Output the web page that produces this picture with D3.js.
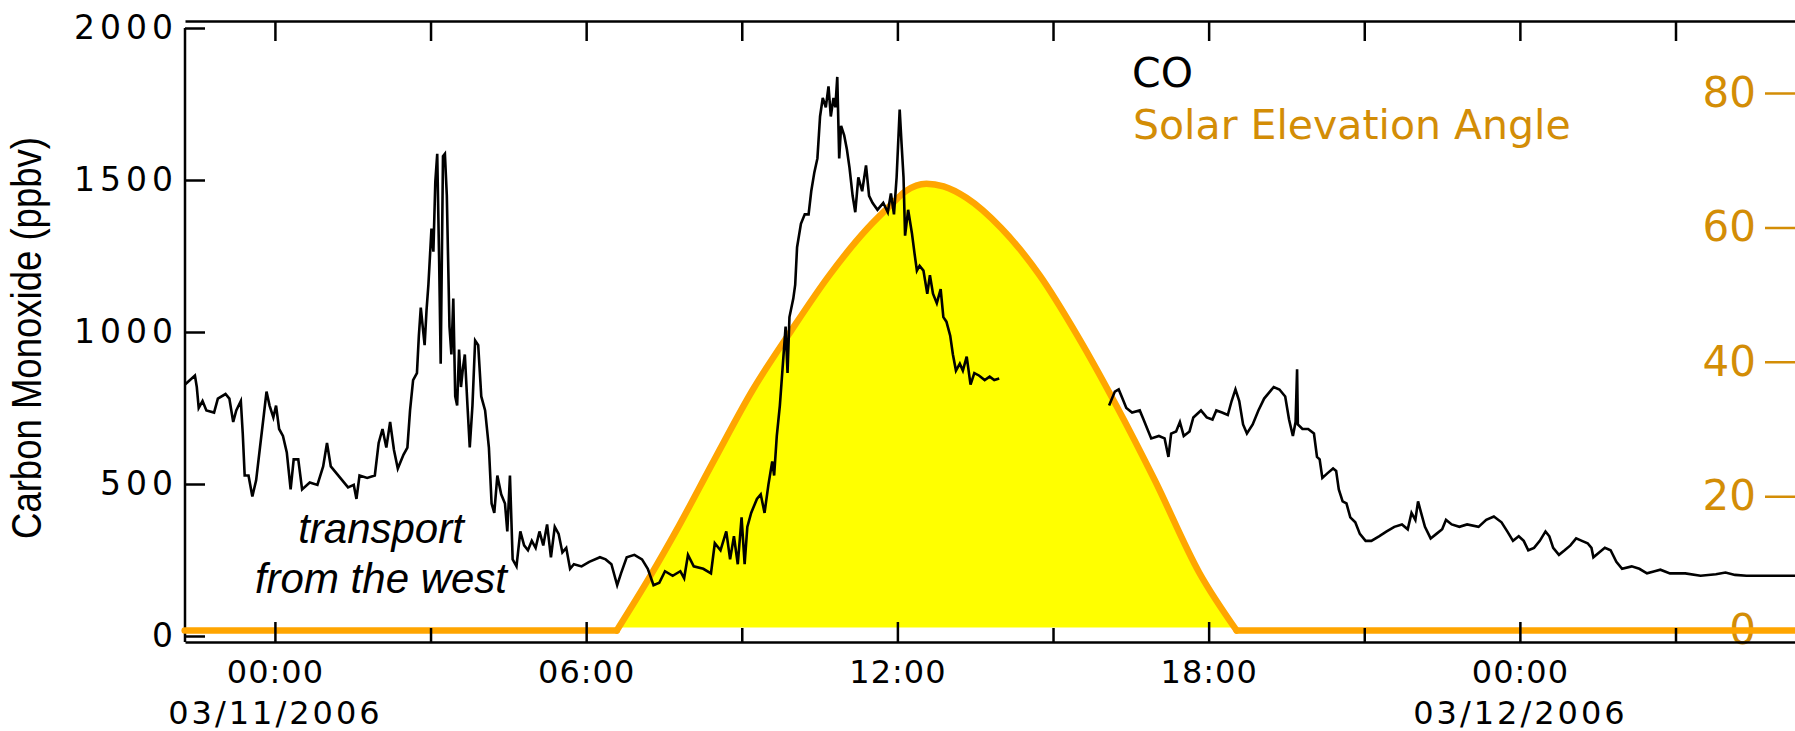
<!DOCTYPE html>
<html>
<head>
<meta charset="utf-8">
<script src="https://cdn.jsdelivr.net/npm/d3@7"></script>
<style>
  html, body { margin: 0; padding: 0; background: #ffffff; }
  svg { display: block; }
</style>
</head>
<body>
<svg id="chart" width="1795" height="731"></svg>
<script>
// Carbon monoxide (ppbv); time in hours after 2006-03-11 00:00 local time
const coHour = [
  -1.734, -1.690, -1.542, -1.506, -1.469, -1.395, -1.321, -1.173, -1.100, -0.952,
  -0.878, -0.804, -0.745, -0.657, -0.620, -0.583, -0.509, -0.435, -0.362, -0.288,
  -0.214, -0.162, -0.103, -0.030, 0.022, 0.081, 0.155, 0.229, 0.303, 0.362,
  0.450, 0.524, 0.672, 0.819, 0.930, 1.004, 1.077, 1.188, 1.299, 1.410,
  1.520, 1.572, 1.631, 1.779, 1.926, 2.000, 2.074, 2.148, 2.221, 2.295,
  2.369, 2.480, 2.554, 2.605, 2.664, 2.738, 2.775, 2.812, 2.886, 2.923,
  2.959, 3.018, 3.055, 3.092, 3.129, 3.166, 3.196, 3.240, 3.277, 3.314,
  3.365, 3.402, 3.439, 3.476, 3.513, 3.550, 3.587, 3.624, 3.661, 3.712,
  3.756, 3.808, 3.860, 3.919, 3.978, 4.052, 4.125, 4.177, 4.229, 4.288,
  4.362, 4.435, 4.480, 4.531, 4.583, 4.657, 4.731, 4.804, 4.878, 4.952,
  5.026, 5.100, 5.173, 5.247, 5.321, 5.395, 5.469, 5.542, 5.616, 5.690,
  5.764, 5.911, 6.059, 6.266, 6.376, 6.487, 6.598, 6.672, 6.782, 6.930,
  7.077, 7.188, 7.299, 7.410, 7.520, 7.668, 7.815, 7.889, 7.963, 8.074,
  8.258, 8.406, 8.480, 8.590, 8.701, 8.775, 8.849, 8.923, 8.996, 9.055,
  9.107, 9.181, 9.292, 9.365, 9.439, 9.513, 9.587, 9.624, 9.675, 9.734,
  9.793, 9.845, 9.882, 9.919, 9.993, 10.030, 10.066, 10.140, 10.214, 10.288,
  10.339, 10.399, 10.458, 10.509, 10.561, 10.620, 10.672, 10.716, 10.768, 10.804,
  10.841, 10.878, 10.915, 10.974, 11.026, 11.077, 11.137, 11.188, 11.247, 11.321,
  11.395, 11.454, 11.520, 11.616, 11.727, 11.815, 11.875, 11.934, 11.985, 12.044,
  12.081, 12.118, 12.148, 12.207, 12.280, 12.332, 12.376, 12.428, 12.502, 12.576,
  12.627, 12.686, 12.760, 12.834, 12.886, 12.945, 13.018, 13.070, 13.129, 13.203,
  13.262, 13.336, 13.410, 13.483, 13.572, 13.683, 13.779, 13.867, 13.963,
  16.081, 16.192, 16.266, 16.339, 16.413, 16.524, 16.672, 16.745, 16.819, 16.893,
  17.041, 17.151, 17.225, 17.277, 17.373, 17.446, 17.520, 17.631, 17.705, 17.852,
  17.963, 18.074, 18.148, 18.258, 18.369, 18.443, 18.517, 18.590, 18.664, 18.738,
  18.849, 18.959, 19.070, 19.181, 19.255, 19.365, 19.476, 19.550, 19.624, 19.676,
  19.705, 19.720, 19.808, 19.919, 20.030, 20.089, 20.140, 20.192, 20.288, 20.399,
  20.458, 20.509, 20.583, 20.657, 20.731, 20.827, 20.915, 21.026, 21.137, 21.284,
  21.432, 21.579, 21.727, 21.838, 21.911, 21.985, 22.037, 22.096, 22.170, 22.280,
  22.391, 22.502, 22.576, 22.686, 22.834, 22.982, 23.203, 23.351, 23.498, 23.646,
  23.757, 23.867, 23.978, 24.074, 24.162, 24.273, 24.384, 24.494, 24.568, 24.642,
  24.753, 24.863, 24.974, 25.085, 25.196, 25.306, 25.380, 25.417, 25.528, 25.638,
  25.749, 25.860, 25.970, 26.155, 26.303, 26.450, 26.598, 26.709, 26.893, 27.188,
  27.483, 27.779, 27.963, 28.148, 28.369, 28.812, 29.314, 29.420
];
const coPpbv = [
  827, 834, 857, 819, 750, 773, 742, 735, 781, 796,
  781, 704, 742, 773, 666, 528, 528, 459, 512, 620,
  727, 804, 758, 719, 758, 681, 658, 604, 482, 581,
  581, 482, 505, 497, 558, 635, 558, 535, 512, 489,
  497, 451, 528, 520, 528, 635, 681, 620, 704, 612,
  551, 597, 620, 742, 842, 865, 988, 1080, 957, 1072,
  1156, 1340, 1264, 1494, 1586, 1233, 896, 1578, 1586, 1448,
  1018, 926, 1110, 788, 758, 942, 819, 880, 926, 758,
  620, 758, 972, 957, 788, 742, 620, 436, 405, 528,
  466, 436, 344, 528, 252, 229, 344, 298, 282, 313,
  290, 344, 298, 367, 259, 359, 336, 275, 290, 221,
  236, 229, 244, 259, 252, 236, 167, 206, 259, 267,
  252, 221, 167, 175, 213, 198, 213, 190, 267, 229,
  221, 206, 305, 282, 344, 252, 328, 236, 390, 236,
  359, 405, 451, 466, 405, 497, 574, 528, 658, 758,
  896, 1018, 865, 1049, 1110, 1156, 1279, 1356, 1387, 1387,
  1463, 1525, 1571, 1709, 1770, 1739, 1808, 1709, 1770, 1739,
  1839, 1571, 1678, 1647, 1601, 1540, 1448, 1394, 1509, 1463,
  1548, 1448, 1425, 1402, 1425, 1394, 1456, 1387, 1509, 1732,
  1617, 1509, 1317, 1402, 1325, 1256, 1202, 1218, 1202, 1126,
  1187, 1126, 1095, 1141, 1049, 1034, 988, 926, 873, 896,
  873, 919, 827, 865, 857, 842, 853, 842, 847,
  758, 804, 811, 781, 750, 735, 742, 712, 681, 650,
  658, 650, 589, 666, 673, 704, 658, 673, 719, 742,
  719, 712, 742, 735, 727, 773, 811, 773, 696, 666,
  696, 742, 781, 804, 819, 811, 788, 712, 658, 704,
  877, 696, 681, 681, 666, 589, 581, 520, 535, 551,
  543, 482, 443, 436, 390, 374, 336, 313, 313, 328,
  344, 359, 367, 351, 405, 382, 443, 405, 359, 321,
  336, 351, 382, 367, 359, 367, 359, 382, 393, 374,
  344, 313, 328, 313, 282, 290, 313, 344, 328, 290,
  267, 282, 298, 321, 313, 305, 290, 259, 275, 290,
  282, 244, 221, 229, 221, 206, 213, 218, 206, 206,
  198, 203, 209, 201, 198, 198, 198, 198
];

// Solar elevation angle (degrees), same time base
const sunHour = [-1.74, 6.59, 7.22, 7.74, 8.47, 9.21, 9.95, 10.69, 11.43, 11.87, 12.16,
                 12.56, 12.89, 13.33, 14.00, 14.74, 15.47, 16.22, 16.96, 17.82, 18.54, 29.42];
const sunDeg  = [0, 0, 7.9, 14.9, 25.4, 35.8, 44.6, 52.9, 59.9, 63.3, 65.4,
                 66.5, 66.1, 64.4, 59.9, 52.9, 43.9, 33.5, 22.4, 8.6, 0, 0];

const coTicks = [0, 500, 1000, 1500, 2000];
const sunTicks = [0, 20, 40, 60, 80];
const legendLabels = ["CO", "Solar Elevation Angle"];
const noteLines = ["transport", "from the west"];
const yTitle = "Carbon Monoxide (ppbv)";

const SUN_LINE = "#ffa500";
const SUN_FILL = "#ffff00";
const SUN_TEXT = "#d38d06";
const AXIS_FONT = "'DejaVu Sans', sans-serif";

const base = new Date(2006, 2, 11, 0, 0, 0);
const toDate = h => new Date(base.getTime() + h * 3600e3);

const frame = { left: 185, right: 1800, top: 21, bottom: 642 };

const x = d3.scaleTime()
  .domain([new Date(2006, 2, 10, 22, 16), new Date(2006, 2, 12, 5, 24)])
  .range([frame.left, frame.right]);
const yCO = d3.scaleLinear().domain([0, 2000]).range([636, 28]);
const ySun = d3.scaleLinear().domain([0, 80]).range([630.5, 93]);

const svg = d3.select("#chart");

const co = coHour.map((h, i) => ({ t: toDate(h), h, v: coPpbv[i] }));
const sun = sunHour.map((h, i) => ({ t: toDate(h), a: sunDeg[i] }));

// daylight arc: from last zero before sunrise to first zero after sunset
const iRise = sun.findIndex(d => d.a > 0) - 1;
const iSet = sun.length - [...sun].reverse().findIndex(d => d.a > 0);
const dayArc = sun.slice(iRise, iSet + 1);

// ---- yellow daylight fill (stops at the upper edge of the zero line)
svg.append("path")
  .datum(dayArc)
  .attr("fill", SUN_FILL)
  .attr("d", d3.area()
    .curve(d3.curveMonotoneX)
    .x(d => x(d.t))
    .y0(ySun(0) - 3)
    .y1(d => ySun(d.a)));

// ---- axes
const hourTicks = x.ticks(d3.timeHour.every(3));
const fmtHM = d3.timeFormat("%H:%M");
const fmtDate = d3.timeFormat("%m/%d/%Y");

const axisStyle = g => {
  g.selectAll("line").attr("stroke", "#000").attr("stroke-width", 2.5);
  g.selectAll(".domain").attr("stroke", "#000").attr("stroke-width", 2.5);
};

// top frame with downward ticks
svg.append("g")
  .attr("transform", `translate(0,${frame.top})`)
  .call(d3.axisTop(x).tickValues(hourTicks).tickSizeInner(-20).tickSizeOuter(0).tickFormat(""))
  .call(axisStyle);

// left axis (CO)
const gLeft = svg.append("g")
  .attr("transform", `translate(${frame.left},0)`)
  .call(d3.axisLeft(yCO).tickValues(coTicks).tickSizeInner(-20).tickSizeOuter(0)
    .tickPadding(7).tickFormat(d3.format("d")))
  .call(axisStyle);
gLeft.select(".domain").remove();
gLeft.append("line")
  .attr("x1", 0).attr("x2", 0)
  .attr("y1", yCO(2000)).attr("y2", frame.bottom)
  .attr("stroke", "#000").attr("stroke-width", 2.5);
gLeft.selectAll("text")
  .attr("font-family", AXIS_FONT).attr("font-size", 33)
  .attr("letter-spacing", 5).attr("fill", "#000");

// right axis (solar elevation), ticks and labels lie inside the frame
const gRight = svg.append("g")
  .attr("transform", `translate(${frame.right},0)`)
  .call(d3.axisLeft(ySun).tickValues(sunTicks).tickSizeInner(35).tickSizeOuter(0).tickPadding(9));
gRight.select(".domain").remove();
gRight.selectAll("line").attr("stroke", SUN_TEXT).attr("stroke-width", 2.5);
gRight.selectAll("text")
  .attr("font-family", AXIS_FONT).attr("font-size", 42).attr("fill", SUN_TEXT);

// ---- solar elevation line
const lineSun = d3.line().x(d => x(d.t)).y(d => ySun(d.a));
const sunLayer = svg.append("g")
  .attr("fill", "none").attr("stroke", SUN_LINE).attr("stroke-width", 6.5)
  .attr("stroke-linejoin", "round").attr("stroke-linecap", "round");
sunLayer.append("path").attr("d", lineSun(sun.slice(0, iRise + 1)));
sunLayer.append("path").attr("d", lineSun.curve(d3.curveMonotoneX)(dayArc));
sunLayer.append("path").attr("d", d3.line().x(d => x(d.t)).y(d => ySun(d.a))(sun.slice(iSet)));

// ---- bottom axis (drawn above the zero line)
const gBottom = svg.append("g")
  .attr("transform", `translate(0,${frame.bottom})`)
  .call(d3.axisBottom(x).tickValues(hourTicks).tickSizeInner(-20).tickSizeOuter(0)
    .tickFormat(d => d.getHours() % 6 === 0 ? fmtHM(d) : ""))
  .call(axisStyle);
gBottom.selectAll(".tick")
  .filter(d => d.getHours() % 6 !== 0)
  .select("line").attr("y2", -14);
gBottom.selectAll(".tick text").each(function (d) {
  const t = d3.select(this);
  t.text(null).attr("y", 41).attr("dy", null)
    .attr("font-family", AXIS_FONT).attr("font-size", 32).attr("fill", "#000");
  if (d.getHours() % 6 !== 0) return;
  t.append("tspan").attr("x", 0).attr("letter-spacing", 1).text(fmtHM(d));
  if (d.getHours() === 0) {
    t.append("tspan").attr("x", 0).attr("dy", 41).attr("letter-spacing", 3).text(fmtDate(d));
  }
});

// ---- CO line (broken where the record has a gap)
const coSegments = [];
let seg = [];
co.forEach((d, i) => {
  if (i > 0 && d.h - co[i - 1].h > 1) { coSegments.push(seg); seg = []; }
  seg.push(d);
});
coSegments.push(seg);

const lineCO = d3.line().x(d => x(d.t)).y(d => yCO(d.v));
svg.append("g")
  .attr("fill", "none").attr("stroke", "#000").attr("stroke-width", 2.6)
  .attr("stroke-linejoin", "miter")
  .selectAll("path").data(coSegments).join("path")
  .attr("d", lineCO);

// ---- y-axis title
svg.append("text")
  .attr("transform", `translate(41,338) rotate(-90)`)
  .attr("text-anchor", "middle")
  .attr("font-family", "'Liberation Sans Narrow', 'Liberation Sans', Arial, sans-serif")
  .attr("font-size", 43)
  .attr("textLength", 402)
  .attr("lengthAdjust", "spacingAndGlyphs")
  .attr("fill", "#000")
  .text(yTitle);

// ---- legend
const legend = svg.append("g").attr("font-family", AXIS_FONT).attr("font-size", 41);
legend.append("text").attr("x", 1132).attr("y", 87).attr("fill", "#000").text(legendLabels[0]);
legend.append("text").attr("x", 1133).attr("y", 139).attr("fill", SUN_TEXT).text(legendLabels[1]);

// ---- annotation
const note = svg.append("text")
  .attr("text-anchor", "middle")
  .attr("font-family", "'Liberation Sans', Arial, sans-serif")
  .attr("font-style", "italic")
  .attr("font-size", 42)
  .attr("fill", "#000");
noteLines.forEach((s, i) => {
  note.append("tspan").attr("x", 381).attr("y", 543 + i * 50).text(s);
});
</script>
</body>
</html>
